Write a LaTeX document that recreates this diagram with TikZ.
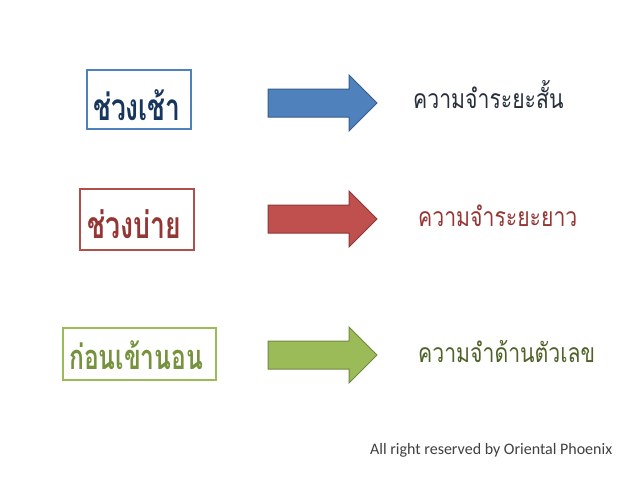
\documentclass[tikz,border=0pt]{standalone}
\usepackage{fontspec}
\setmainfont{Carlito}
\newfontfamily\thaifont[Script=Thai]{Loma}
\definecolor{blueline}{HTML}{4F81BD}
\definecolor{bluetext}{HTML}{17365D}
\definecolor{bluefill}{HTML}{4F81BD}
\definecolor{bluedraw}{HTML}{385D8A}
\definecolor{redline}{HTML}{B0504D}
\definecolor{redtext}{HTML}{943634}
\definecolor{redfill}{HTML}{C0504D}
\definecolor{reddraw}{HTML}{8C3836}
\definecolor{greenline}{HTML}{9BBB59}
\definecolor{greentext}{HTML}{76923C}
\definecolor{greenfill}{HTML}{9BBB59}
\definecolor{greendraw}{HTML}{71893F}
\definecolor{darktext}{HTML}{262F3A}
\definecolor{olivetext}{HTML}{4F6228}
\definecolor{graytext}{HTML}{404040}
\newcommand\tallb[2]{{\fontsize{#1}{#1}\selectfont\scalebox{1}[1.4]{#2}}}
\newcommand\tallr[1]{\scalebox{1}[1.25]{#1}}
\tikzset{
  framebox/.style={line width=1.5pt},
  boldthai/.style={inner sep=0pt, anchor=base west, font=\thaifont\bfseries},
  plainthai/.style={inner sep=0pt, anchor=base west, font=\thaifont\fontsize{21.2}{21.2}\selectfont},
  blockarrow/.style={line width=1pt, line join=miter},
}
\begin{document}
\begin{tikzpicture}[x=1pt,y=-1pt]
\useasboundingbox[fill=white] (0,0) rectangle (640,480);
% boxes
\draw[framebox, blueline] (87,70) rectangle (191,129);
\draw[framebox, redline] (80,189) rectangle (194,250);
\draw[framebox, greenline] (63,328) rectangle (216,380);
% box texts
\node[boldthai, text=bluetext] (t1) at (93,120) {\tallb{26.4}{ช่วงเช้า}};
\node[boldthai, text=redtext] (t2) at (87,238) {\tallb{26.6}{ช่วงบ่าย}};
\node[boldthai, text=greentext] (t3) at (69,369) {\tallb{24.6}{ก่อนเข้านอน}};
% arrows
\foreach \yc/\f/\d in {103/bluefill/bluedraw, 219/redfill/reddraw, 355/greenfill/greendraw}{
  \draw[blockarrow, fill=\f, draw=\d] (268,\yc-14) -- (349,\yc-14) -- (349,\yc-28) -- (377,\yc) -- (349,\yc+28) -- (349,\yc+14) -- (268,\yc+14) -- cycle;
}
% right texts
\node[plainthai, text=darktext] (r1) at (413,108) {\tallr{ความจำระยะสั้น}};
\node[plainthai, text=redtext] (r2) at (418,226) {\tallr{ความจำระยะยาว}};
\node[plainthai, text=olivetext] (r3) at (418,362) {\tallr{ความจำด้านตัวเลข}};
% copyright
\node[inner sep=0pt, anchor=base west, text=graytext, font=\fontsize{16}{16}\selectfont] (c) at (370,454) {All right reserved by Oriental Phoenix};
\end{tikzpicture}
\end{document}
